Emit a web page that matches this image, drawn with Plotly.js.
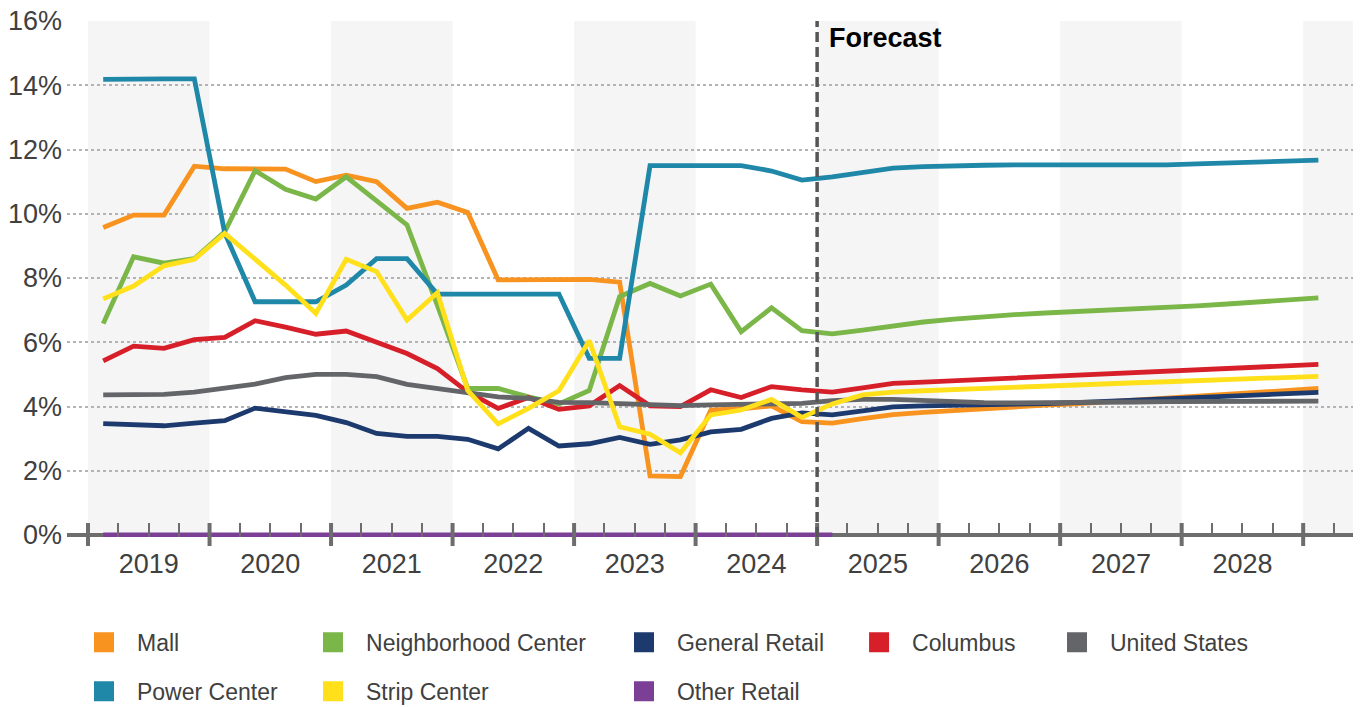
<!DOCTYPE html>
<html>
<head>
<meta charset="utf-8">
<script src="https://cdn.plot.ly/plotly-3.0.1.min.js"></script>
<style>
html,body{margin:0;padding:0;background:#fff;}
#chart{width:1364px;height:707px;}
</style>
</head>
<body>
<div id="chart"></div>
<script>
// ---- categories ----
const firstYear = 2019;
const quarterCount = 41;
const quarterLabels = [];
for (let i = 0; i < quarterCount; i++) {
  quarterLabels.push((firstYear + Math.floor(i / 4)) + ' Q' + (i % 4 + 1));
}
const years = [2019, 2020, 2021, 2022, 2023, 2024, 2025, 2026, 2027, 2028, 2029];
const yearLabels = ['2019', '2020', '2021', '2022', '2023', '2024', '2025', '2026', '2027', '2028'];
const forecastStart = 2025;
const yTicks = [0, 2, 4, 6, 8, 10, 12, 14, 16];

// ---- series values (vacancy %, quarterly) ----
const mall = [9.57, 9.96, 9.96, 11.48, 11.40, 11.39, 11.39, 11.00, 11.20, 11.00, 10.17, 10.36, 10.04, 7.94, 7.94, 7.96, 7.96, 7.87, 1.84, 1.82, 3.89, 3.93, 4.02, 3.53, 3.48, 3.62, 3.75, 3.82, 3.88, 3.94, 3.99, 4.04, 4.08, 4.14, 4.20, 4.26, 4.32, 4.38, 4.44, 4.50, 4.56];
const neighborhoodCenter = [6.58, 8.66, 8.46, 8.60, 9.44, 11.34, 10.76, 10.46, 11.15, 10.42, 9.65, 7.15, 4.56, 4.56, 4.30, 4.08, 4.50, 7.42, 7.83, 7.44, 7.81, 6.33, 7.07, 6.36, 6.26, 6.38, 6.52, 6.63, 6.72, 6.80, 6.86, 6.91, 6.95, 6.99, 7.03, 7.08, 7.13, 7.19, 7.25, 7.32, 7.38];
const generalRetail = [3.47, 3.43, 3.40, 3.48, 3.56, 3.95, 3.84, 3.72, 3.50, 3.16, 3.07, 3.07, 2.98, 2.68, 3.32, 2.77, 2.84, 3.04, 2.82, 2.96, 3.21, 3.29, 3.63, 3.80, 3.74, 3.86, 3.99, 4.02, 4.03, 4.05, 4.07, 4.09, 4.12, 4.16, 4.20, 4.24, 4.28, 4.32, 4.36, 4.40, 4.44];
const columbus = [5.42, 5.88, 5.81, 6.08, 6.15, 6.67, 6.47, 6.25, 6.35, 6.00, 5.65, 5.18, 4.45, 3.94, 4.28, 3.91, 4.02, 4.65, 4.02, 4.00, 4.52, 4.28, 4.62, 4.52, 4.45, 4.58, 4.72, 4.76, 4.80, 4.84, 4.88, 4.92, 4.96, 5.00, 5.04, 5.08, 5.12, 5.17, 5.21, 5.26, 5.31];
const unitedStates = [4.36, 4.36, 4.38, 4.45, 4.56, 4.70, 4.90, 5.00, 5.00, 4.93, 4.69, 4.57, 4.44, 4.30, 4.25, 4.13, 4.12, 4.10, 4.08, 4.03, 4.05, 4.07, 4.08, 4.10, 4.18, 4.22, 4.22, 4.18, 4.15, 4.12, 4.11, 4.11, 4.12, 4.13, 4.14, 4.15, 4.16, 4.16, 4.17, 4.17, 4.17];
const powerCenter = [14.18, 14.20, 14.20, 14.20, 9.40, 7.26, 7.26, 7.26, 7.78, 8.60, 8.60, 7.50, 7.50, 7.50, 7.50, 7.50, 5.50, 5.50, 11.50, 11.50, 11.50, 11.50, 11.33, 11.05, 11.15, 11.30, 11.42, 11.47, 11.50, 11.51, 11.52, 11.52, 11.51, 11.50, 11.50, 11.52, 11.55, 11.58, 11.61, 11.64, 11.67];
const stripCenter = [7.35, 7.75, 8.38, 8.58, 9.39, 8.58, 7.78, 6.90, 8.58, 8.20, 6.69, 7.54, 4.50, 3.46, 3.94, 4.49, 6.05, 3.37, 3.14, 2.56, 3.74, 3.89, 4.22, 3.66, 4.08, 4.36, 4.45, 4.49, 4.53, 4.57, 4.60, 4.63, 4.67, 4.70, 4.74, 4.77, 4.81, 4.84, 4.88, 4.91, 4.94];
const otherRetail = [0, 0, 0, 0, 0, 0, 0, 0, 0, 0, 0, 0, 0, 0, 0, 0, 0, 0, 0, 0, 0, 0, 0, 0, 0];

// ---- series styling ----
const series = [
  {name: 'Mall', values: mall, color: '#F7931E', legend: 'legend'},
  {name: 'Neighborhood Center', values: neighborhoodCenter, color: '#7AB648', legend: 'legend2'},
  {name: 'General Retail', values: generalRetail, color: '#1D3A6E', legend: 'legend3'},
  {name: 'Columbus', values: columbus, color: '#D71F2A', legend: 'legend4'},
  {name: 'United States', values: unitedStates, color: '#636568', legend: 'legend5'},
  {name: 'Power Center', values: powerCenter, color: '#1F87A8', legend: 'legend'},
  {name: 'Strip Center', values: stripCenter, color: '#FFE01A', legend: 'legend2'},
  {name: 'Other Retail', values: otherRetail, color: '#7B3F96', legend: 'legend3'}
];

function quarterPos(label) {
  const parts = label.split(' Q');
  return Number(parts[0]) + (Number(parts[1]) - 0.5) / 4;
}
const xPos = quarterLabels.map(quarterPos);

const FONT = 'Arial, "Liberation Sans", sans-serif';
const traces = [];
series.forEach(s => {
  traces.push({
    type: 'scatter', mode: 'lines', name: s.name,
    x: xPos.slice(0, s.values.length), y: s.values,
    text: quarterLabels.slice(0, s.values.length),
    line: {color: s.color, width: 4.8},
    showlegend: false, legendgroup: s.name,
    hovertemplate: '%{text}: %{y:.1f}%<extra>' + s.name + '</extra>'
  });
});
// legend entries (square swatches)
series.forEach(s => {
  traces.push({
    type: 'scatter', mode: 'markers', name: s.name,
    x: [null], y: [null],
    marker: {symbol: 'square', size: 16, color: s.color, line: {color: s.color, width: 4}},
    legend: s.legend, legendgroup: s.name, showlegend: true, hoverinfo: 'skip'
  });
});

const xRange = [2018.827, 2029.41];
const yearMids = yearLabels.map(l => Number(l) + 0.5);
const quarterTicks = [];
years.forEach(y => {
  [0.25, 0.75].forEach(f => { if (y + f < xRange[1]) quarterTicks.push(y + f); });
});

const shapes = [];
years.forEach((y, i) => {
  if (i % 2 === 0) {
    shapes.push({type: 'rect', xref: 'x', yref: 'paper', x0: y, x1: Math.min(y + 1, xRange[1]), y0: 0, y1: 1,
      fillcolor: '#F5F5F5', line: {width: 0}, layer: 'below'});
  }
});
years.forEach(y => {
  shapes.push({type: 'line', xref: 'x', yref: 'paper', x0: y, x1: y, y0: -0.0174, y1: 0.0271,
    line: {color: '#6D6D6D', width: 4}, layer: 'above'});
});
shapes.push({type: 'line', xref: 'x', yref: 'paper', x0: forecastStart, x1: forecastStart, y0: 0, y1: 1,
  line: {color: '#555555', width: 3.5, dash: '10px,5px'}, layer: 'above'});

function legendCfg(xp) {
  return {orientation: 'v', x: xp, y: -0.1625, xanchor: 'left', yanchor: 'top',
    font: {family: FONT, size: 23, color: '#404040'}, itemwidth: 56, tracegroupgap: 16,
    bgcolor: 'rgba(0,0,0,0)', itemsizing: 'trace', itemclick: false, itemdoubleclick: false};
}

const layout = {
  width: 1364, height: 707,
  margin: {l: 67, r: 11, t: 21, b: 170, pad: 0, autoexpand: false},
  paper_bgcolor: '#FFFFFF', plot_bgcolor: '#FFFFFF',
  font: {family: FONT, color: '#404040'},
  xaxis: {
    range: xRange, tickmode: 'array', tickvals: yearMids, ticktext: yearLabels,
    ticks: 'inside', ticklen: 14, tickwidth: 2, tickcolor: '#6D6D6D', ticklabelstandoff: 8,
    tickfont: {family: FONT, size: 27, color: '#404040'},
    showgrid: false, zeroline: false, showline: false, fixedrange: true, automargin: false,
    minor: {tickmode: 'array', tickvals: quarterTicks, ticks: 'inside', ticklen: 14, tickwidth: 2,
      tickcolor: '#6D6D6D', showgrid: false}
  },
  yaxis: {
    range: [-0.0623, 16], tickmode: 'array', tickvals: yTicks, ticktext: yTicks.map(v => v + '%'),
    ticks: '', ticklabelstandoff: 4, tickfont: {family: FONT, size: 27, color: '#404040'},
    showgrid: true, gridcolor: '#B3B3B3', griddash: 'dot', gridwidth: 1.5,
    zeroline: true, zerolinecolor: '#6D6D6D', zerolinewidth: 4, showline: false, fixedrange: true, automargin: false
  },
  shapes: shapes,
  annotations: [{
    xref: 'x', yref: 'paper', x: forecastStart, y: 1, xanchor: 'left', yanchor: 'top', xshift: 10,
    text: '<b>Forecast</b>', showarrow: false, font: {family: FONT, size: 27, color: '#000000'}
  }],
  legend: legendCfg(0.0031),
  legend2: legendCfg(0.1812),
  legend3: legendCfg(0.4230),
  legend4: legendCfg(0.6058),
  legend5: legendCfg(0.7597),
  hovermode: 'closest'
};

Plotly.newPlot('chart', traces, layout, {displayModeBar: false, responsive: false});
</script>
</body>
</html>
